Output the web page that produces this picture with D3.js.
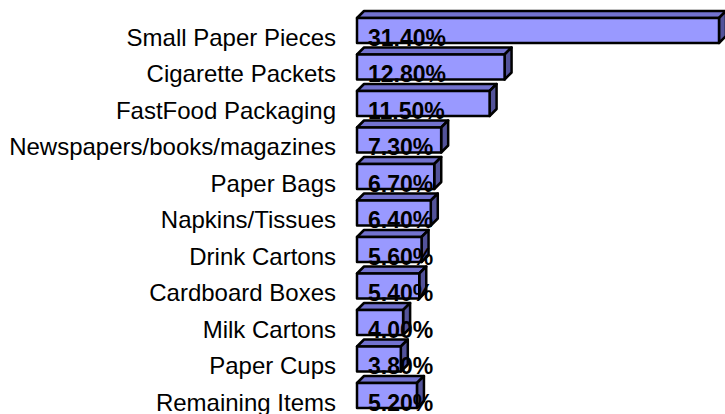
<!DOCTYPE html>
<html>
<head>
<meta charset="utf-8">
<script src="https://cdn.jsdelivr.net/npm/d3@7"></script>
<style>
  html, body { margin: 0; padding: 0; background: #fff; }
  svg { display: block; }
</style>
</head>
<body>
<svg id="chart" width="725" height="414"></svg>
<script>
// Paper litter composition, share of items by type
const categories = [
  "Small Paper Pieces",
  "Cigarette Packets",
  "FastFood Packaging",
  "Newspapers/books/magazines",
  "Paper Bags",
  "Napkins/Tissues",
  "Drink Cartons",
  "Cardboard Boxes",
  "Milk Cartons",
  "Paper Cups",
  "Remaining Items"
];
const values = [31.4, 12.8, 11.5, 7.3, 6.7, 6.4, 5.6, 5.4, 4.0, 3.8, 5.2];

const fmt = v => d3.format(".2f")(v) + "%";

const svg = d3.select("#chart");
const depth = 7;

const x = d3.scaleLinear().domain([0, 31.4]).range([357, 719]);
const y = d3.scaleBand()
  .domain(categories)
  .range([18, 408])
  .paddingInner(0.315)
  .paddingOuter(0);
const h = y.bandwidth();

const colors = { front: "#9999ff", top: "#7272cf", side: "#53539a" };

// category labels on the left
svg.append("g")
  .selectAll("text")
  .data(categories)
  .join("text")
  .attr("x", 336)
  .attr("y", d => y(d) + h + 2.5)
  .attr("text-anchor", "end")
  .attr("font-family", "'Liberation Sans', Arial, sans-serif")
  .attr("font-size", 24)
  .attr("fill", "#000")
  .text(d => d);

// 3D bars, each followed by its value label so the next bar overlaps it
const rows = categories.map((c, i) => ({ c, v: values[i] }));
const bars = svg.append("g");
rows.forEach(r => {
  const x0 = x(0), x1 = x(r.v), yt = y(r.c), yb = yt + h;
  const g = bars.append("g")
    .attr("stroke", "#000")
    .attr("stroke-width", 2.5)
    .attr("stroke-linejoin", "round");
  g.append("path")
    .attr("fill", colors.top)
    .attr("d", `M${x0},${yt}L${x0 + depth},${yt - depth}L${x1 + depth},${yt - depth}L${x1},${yt}Z`);
  g.append("path")
    .attr("fill", colors.side)
    .attr("d", `M${x1},${yt}L${x1 + depth},${yt - depth}L${x1 + depth},${yb - depth}L${x1},${yb}Z`);
  g.append("rect")
    .attr("fill", colors.front)
    .attr("x", x0).attr("y", yt)
    .attr("width", x1 - x0).attr("height", h);
  bars.append("text")
    .attr("x", x0 + 11)
    .attr("y", yb + 2.5)
    .attr("font-family", "'Liberation Sans', Arial, sans-serif")
    .attr("font-weight", "bold")
    .attr("font-size", 23)
    .attr("fill", "#000")
    .text(fmt(r.v));
});
</script>
</body>
</html>
